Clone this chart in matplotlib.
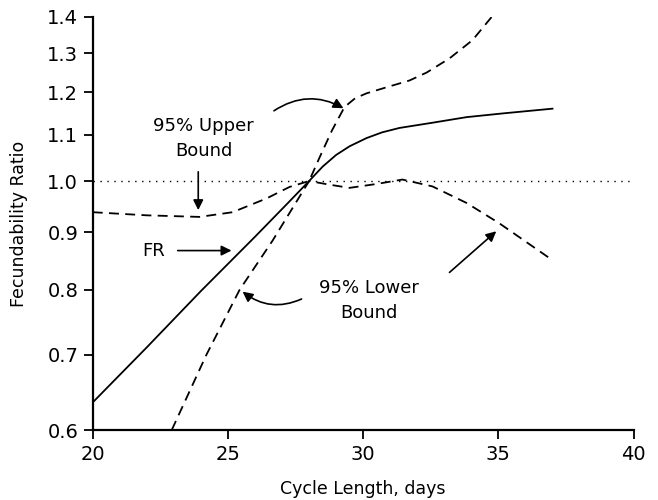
import numpy as np
import matplotlib
matplotlib.use("Agg")
from matplotlib import pyplot as plt
from matplotlib.ticker import FixedLocator, FixedFormatter, NullLocator

# values (cycle length in days, ratio)
fr_x = [20.0, 22.0, 24.0, 26.0, 27.2, 28.0, 28.5, 29.0, 29.5, 30.12, 30.7, 31.34,
        32.56, 33.82, 35.2, 37.0]
fr_y = [0.635, 0.711, 0.798, 0.892, 0.955, 1.0, 1.030, 1.055, 1.074, 1.092, 1.105, 1.115,
        1.127, 1.140, 1.149, 1.160]

up_x = [20.0, 22.0, 23.95, 25.17, 26.43, 27.28, 28.0, 28.39, 28.85, 29.31, 29.7,
        30.12, 30.86, 31.71, 32.34, 33.19, 34.04, 34.78]
up_y = [0.938, 0.932, 0.929, 0.938, 0.965, 0.988, 1.0, 1.050, 1.110, 1.164, 1.185,
        1.197, 1.212, 1.229, 1.249, 1.286, 1.335, 1.403]

lo_x = [22.92, 24.2, 25.43, 26.65, 28.0, 28.7, 29.49, 30.5, 31.45, 32.56, 33.82, 35.03, 37.0]
lo_y = [0.6, 0.700, 0.8, 0.885, 1.0, 0.993, 0.986, 0.994, 1.003, 0.989, 0.956, 0.917, 0.850]

y_ticks = [0.6, 0.7, 0.8, 0.9, 1.0, 1.1, 1.2, 1.3, 1.4]
x_ticks = [20, 25, 30, 35, 40]

plt.rcParams['font.family'] = ['DejaVu Sans']

fig = plt.figure(figsize=(6.58, 5.0), dpi=100)
ax = fig.add_axes([0.141, 0.14, 0.822, 0.826])

ax.axhline(1.0, color="black", lw=1.0, linestyle=(0, (1, 4)))
ax.plot(fr_x, fr_y, color="black", lw=1.3)
ax.plot(up_x, up_y, color="black", lw=1.3, dashes=(5.5, 3.5))
ax.plot(lo_x, lo_y, color="black", lw=1.3, dashes=(5.5, 3.5))

ax.set_yscale("log")
ax.set_xlim(20, 40)
ax.set_ylim(0.6, 1.4)
ax.yaxis.set_major_locator(FixedLocator(y_ticks))
ax.yaxis.set_major_formatter(FixedFormatter(["%.1f" % v for v in y_ticks]))
ax.yaxis.set_minor_locator(NullLocator())
ax.set_xticks(x_ticks)
ax.set_xticklabels([str(v) for v in x_ticks])

for s in ["top", "right"]:
    ax.spines[s].set_visible(False)
for s in ["left", "bottom"]:
    ax.spines[s].set_linewidth(1.6)
ax.tick_params(direction="out", length=6.5, width=1.3, labelsize=14, pad=4)

ax.set_xlabel("Cycle Length, days", fontsize=12.5, labelpad=12)
ax.set_ylabel("Fecundability Ratio", fontsize=12.5, labelpad=14)

# annotations
arrow = dict(arrowstyle="-|>", color="black", lw=1.2, mutation_scale=15, shrinkA=0, shrinkB=0)
ax.text(24.1, 1.092, "95% Upper\nBound", ha="center", va="center", fontsize=13, linespacing=1.5)
ax.annotate("", xy=(23.9, 0.942), xytext=(23.9, 1.019), arrowprops=arrow)
ax.annotate("", xy=(29.27, 1.161), xytext=(26.7, 1.155),
            arrowprops=dict(arrow, connectionstyle="arc3,rad=-0.3"))

ax.text(22.25, 0.867, "FR", ha="center", va="center", fontsize=13)
ax.annotate("", xy=(25.13, 0.867), xytext=(23.14, 0.867), arrowprops=arrow)

ax.text(30.2, 0.783, "95% Lower\nBound", ha="center", va="center", fontsize=13, linespacing=1.5)
ax.annotate("", xy=(25.54, 0.797), xytext=(27.72, 0.785),
            arrowprops=dict(arrow, connectionstyle="arc3,rad=-0.3"))
ax.annotate("", xy=(34.92, 0.902), xytext=(33.19, 0.829), arrowprops=arrow)

fig.savefig("out.png", dpi=100)
